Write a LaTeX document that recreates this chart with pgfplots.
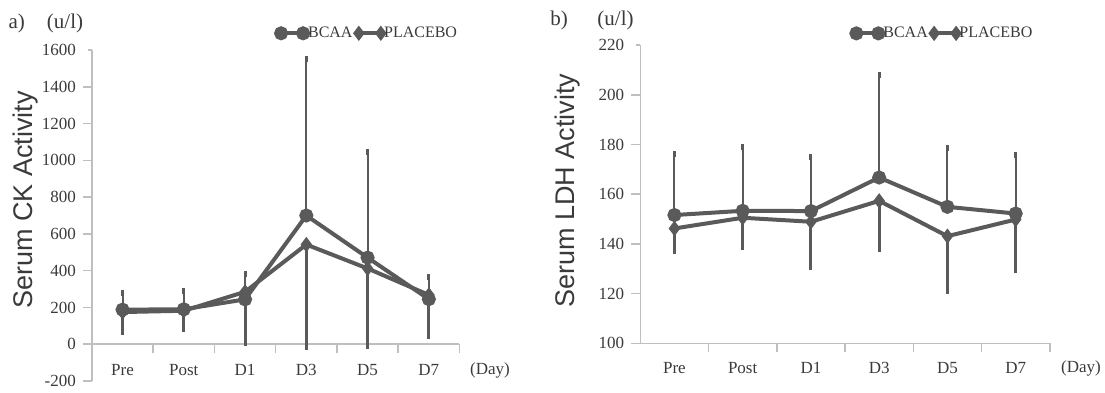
\documentclass[border=0pt]{standalone}
\usepackage{fontspec}
\setmainfont{Liberation Serif}
\newfontfamily\labelfont{Liberation Sans}
\usepackage{pgfplots}
\pgfplotsset{compat=1.18}
\usepackage{pgfplotstable}
\definecolor{dat}{HTML}{5A5A5A}
\definecolor{axg}{HTML}{BFBFBF}
\definecolor{txt}{HTML}{3A3A3A}

\pgfplotstableread{
x y e
0 188 92
1 190 101
2 244 137
3 700 853
4 471 573
5 245 121
}\ckb
\pgfplotstableread{
x y e
0 175 106
1 182 99
2 285 276
3 542 555
4 412 419
5 268 221
}\ckp
\pgfplotstableread{
x y e
0 151.6 24.4
1 153.3 25.6
2 153.2 21.7
3 166.7 41.3
4 154.9 23.6
5 152.2 23.7
}\ldhb
\pgfplotstableread{
x y e
0 146.2 9.1
1 150.5 11.9
2 148.9 18.2
3 157.3 19.4
4 143.1 21.9
5 149.8 20.5
}\ldhp

\pgfplotsset{
 panel/.style={
  scale only axis,
  xmin=-0.5, xmax=5.5,
  axis y line*=left,
  axis line style={draw=axg, line width=0.8pt},
  xtick={0.5,1.5,2.5,3.5,4.5,5.5},
  xticklabels={Pre,Post,D1,D3,D5,D7},
  tick align=outside,
  major tick length=4.5pt,
  tick style={draw=axg, line width=0.8pt},
  y tick style={shorten <=2.5pt},
  tick label style={font=\fontsize{8.5}{10}\selectfont, text=txt},
  /pgf/number format/assume math mode=true,
  /pgf/number format/1000 sep={},
  hide obscured x ticks=false, hide obscured y ticks=false,
  clip=false,
  legend style={draw=none, fill=none, anchor=west, legend columns=2, inner sep=0pt,
    font=\fontsize{8}{9}\selectfont, text=txt, nodes={inner sep=0pt},
    /tikz/every even column/.append style={column sep=1.5pt}},
  legend cell align=left,
  legend image code/.code={\draw[mark repeat=1,mark phase=1,##1] plot coordinates {(0pt,0pt) (11pt,0pt)};},
 },
 bcaa/.style={dat, line width=2pt, mark=*, mark size=2.5pt, mark options={solid}},
 plac/.style={dat, line width=2pt, mark=diamond*, mark size=2.2pt, mark options={solid}},
 eplus/.style={error bars/.cd, y dir=plus, y explicit, error bar style={line width=1pt, dat}, error mark options={line width=1.5pt, mark size=1.5pt, dat}},
 eminus/.style={error bars/.cd, y dir=minus, y explicit, error bar style={line width=1.5pt, dat}, error mark options={line width=1.5pt, mark size=1.5pt, dat}},
}

\begin{document}
\begin{tikzpicture}[x=1pt,y=1pt]
\path[use as bounding box] (0,0) rectangle (552.5,-196);

\begin{axis}[panel, at={(45.95pt,-190.5pt)}, anchor=south west,
  width=183.8pt, height=165.5pt,
  ymin=-200, ymax=1600, ytick={-200,0,200,...,1600},
  axis x line*=middle,
  xticklabel style={anchor=center, xshift=-15.32pt, yshift=-8.35pt},
  legend style={at={(0.5,1.0505)}}]
\addplot[bcaa, eplus] table[x=x, y=y, y error plus=e] {\ckb};
\addlegendentry{BCAA}
\addplot[plac, eminus] table[x=x, y=y, y error minus=e] {\ckp};
\addlegendentry{PLACEBO}
\end{axis}

\begin{axis}[panel, at={(320.15pt,-171.65pt)}, anchor=south west,
  width=204.75pt, height=149.15pt,
  ymin=100, ymax=220, ytick={100,120,...,220},
  axis x line*=bottom,
  xticklabel style={anchor=center, xshift=-17.06pt, yshift=-8pt},
  legend style={at={(0.5145,1.039)}}]
\addplot[bcaa, eplus] table[x=x, y=y, y error plus=e] {\ldhb};
\addlegendentry{BCAA}
\addplot[plac, eminus] table[x=x, y=y, y error minus=e] {\ldhp};
\addlegendentry{PLACEBO}
\end{axis}

\node[text=txt, font=\fontsize{10.5}{12}\selectfont] at (8.35,-11.65) {a)};
\node[text=txt, font=\fontsize{10.5}{12}\selectfont] at (32.5,-11.65) {(u/l)};
\node[text=txt, font=\fontsize{10.5}{12}\selectfont] at (279.5,-10) {b)};
\node[text=txt, font=\fontsize{10.5}{12}\selectfont] at (307.75,-10) {(u/l)};
\node[text=txt, font=\fontsize{8.5}{10}\selectfont] at (245,-185) {(Day)};
\node[text=txt, font=\fontsize{8.5}{10}\selectfont] at (540.5,-184.15) {(Day)};
\node[text=txt, font=\labelfont\fontsize{13.5}{15}\selectfont, rotate=90] at (12.75,-100) {Serum CK Activity};
\node[text=txt, font=\labelfont\fontsize{13.5}{15}\selectfont, rotate=90] at (283.75,-95.4) {Serum LDH Activity};
\end{tikzpicture}
\end{document}
